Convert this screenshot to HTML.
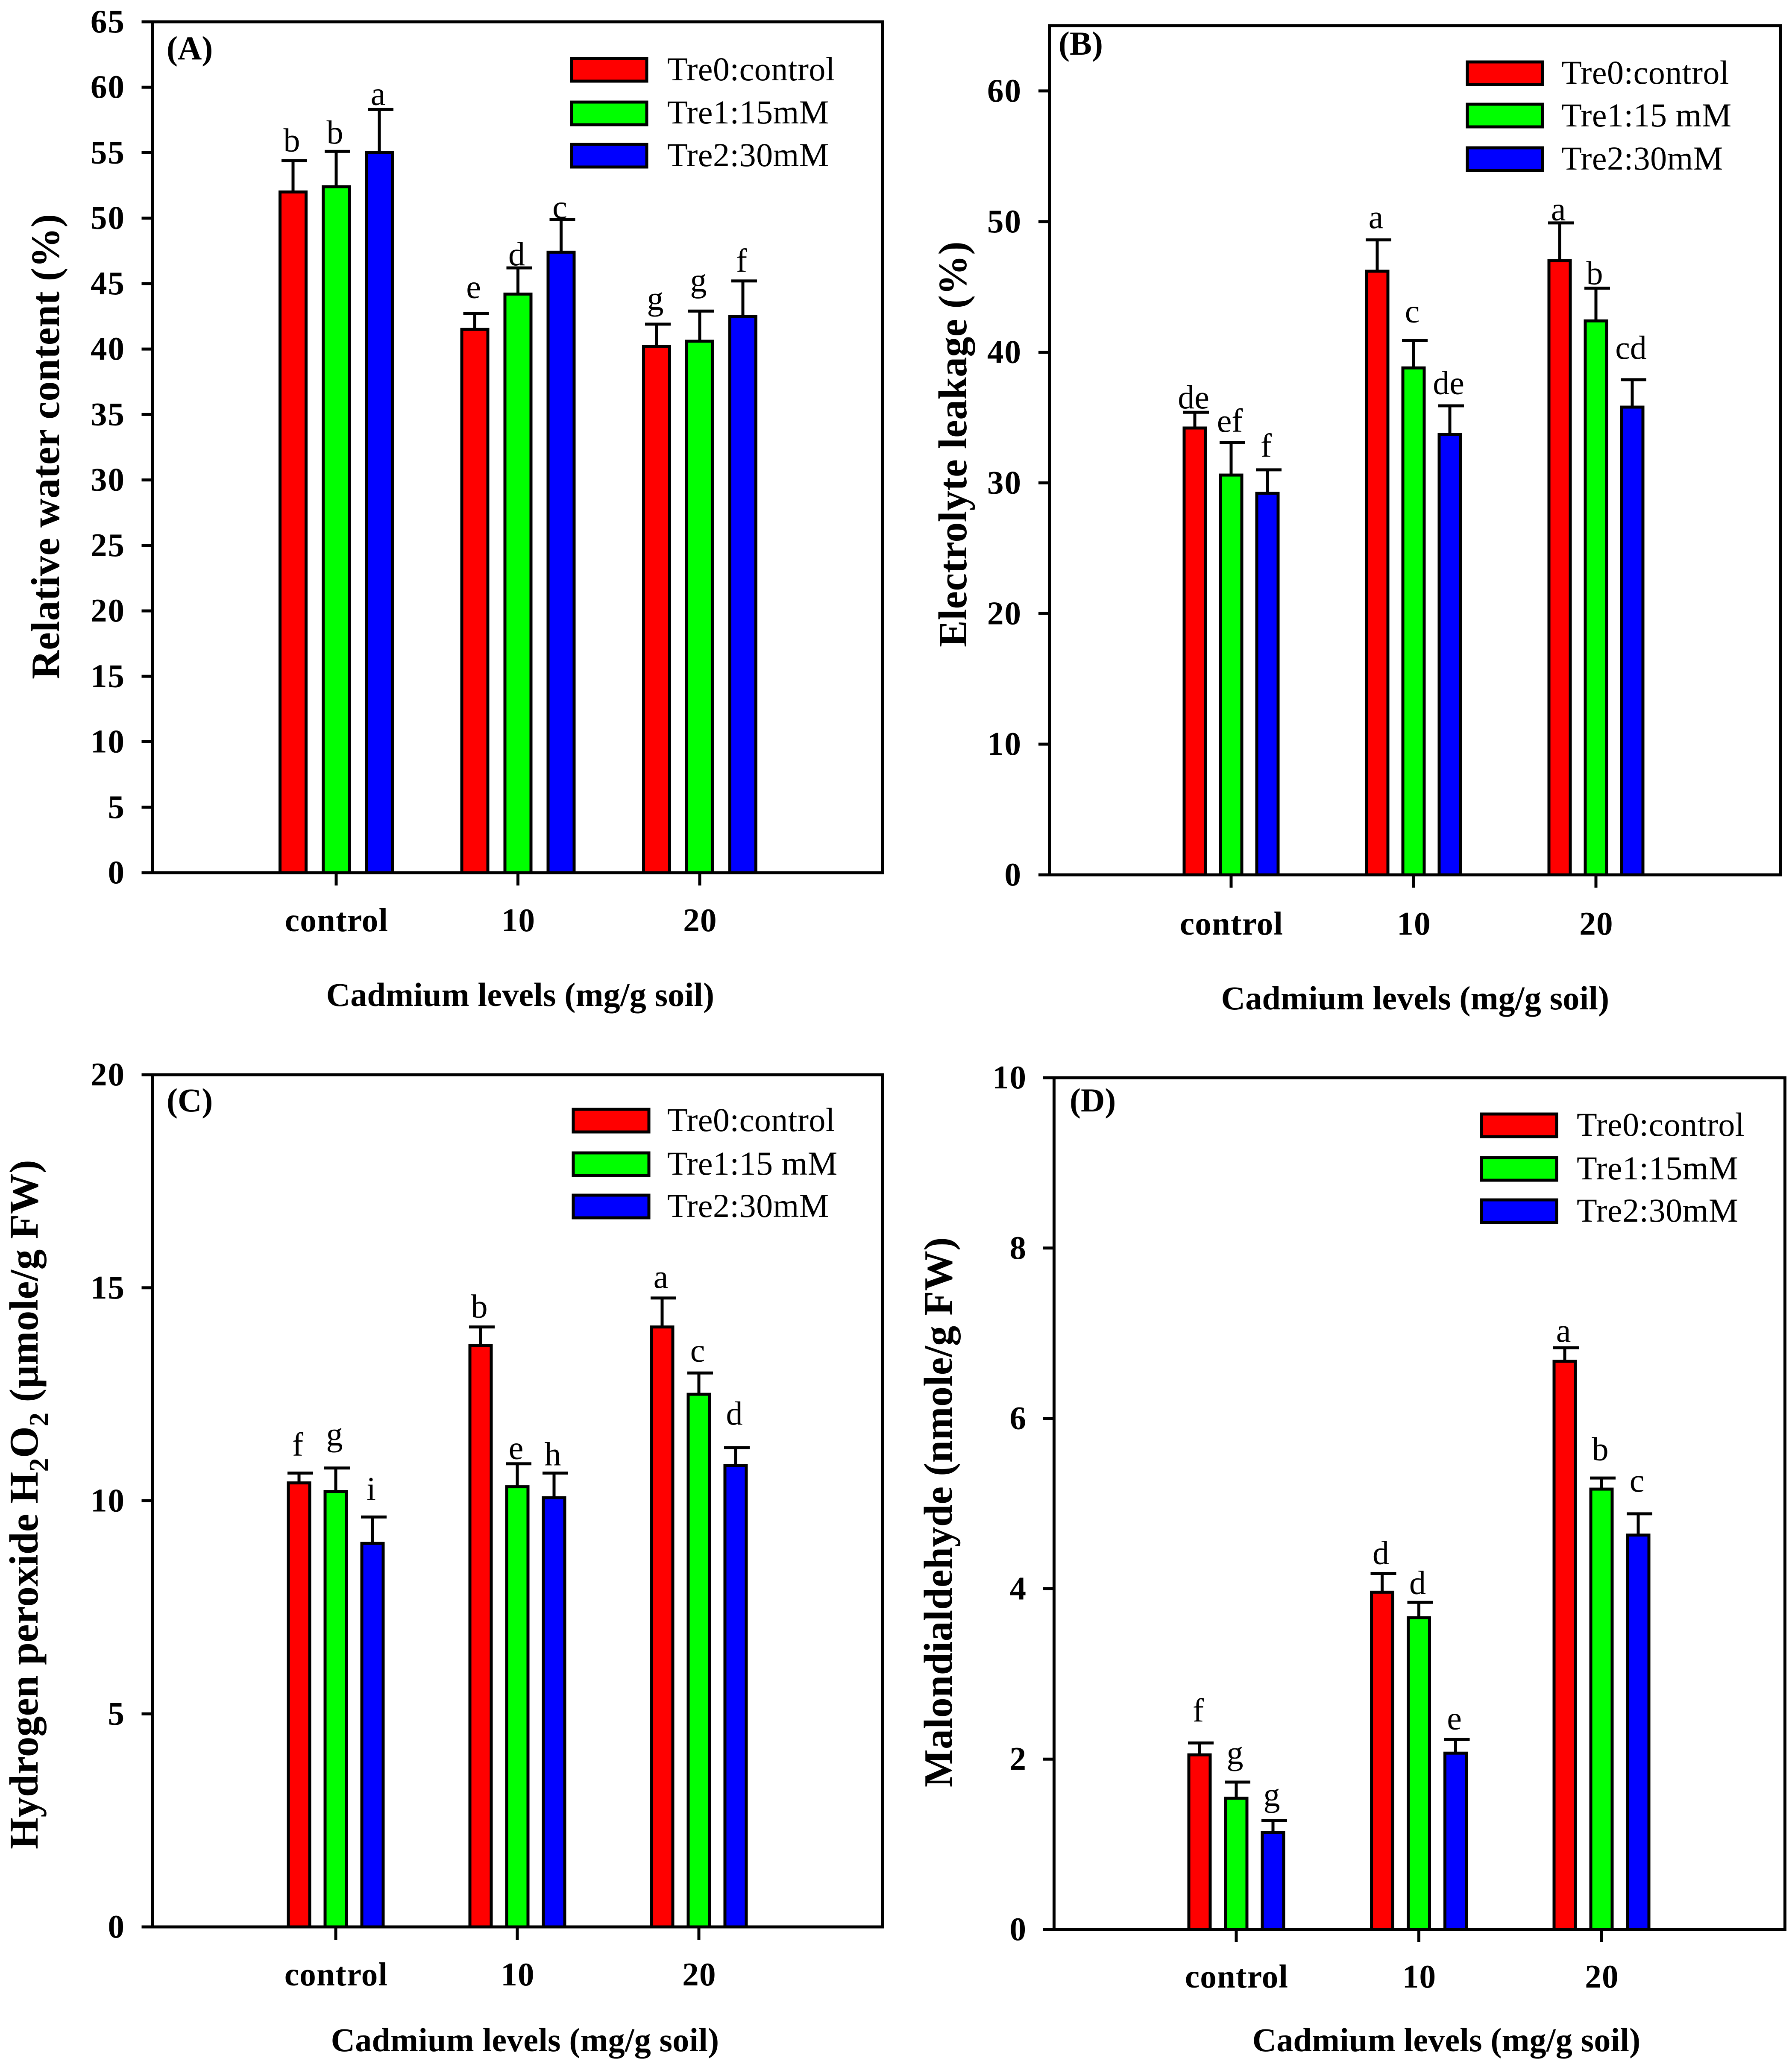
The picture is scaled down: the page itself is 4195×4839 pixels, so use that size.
<!DOCTYPE html>
<html lang="en">
<head>
<meta charset="utf-8">
<title>Cadmium and trehalose response charts</title>
<style>
html,body{margin:0;padding:0;background:#fff;}
svg{display:block;}
text{font-family:"Liberation Serif",serif;fill:#000;}
.b{font-weight:bold;}
.frame{fill:none;stroke:#000;stroke-width:7;}
.swatch{stroke:#000;stroke-width:7;}
.lg{letter-spacing:0.5px;}
.xt{letter-spacing:0.2px;}
.yt{letter-spacing:0.3px;}
</style>
</head>
<body>
<svg id="figure" xmlns="http://www.w3.org/2000/svg" width="4195" height="4839" viewBox="0 0 4195 4839">
<rect x="0" y="0" width="4195" height="4839" fill="#fff"/>

<g id="panel-a">
  <rect class="frame" x="357.5" y="51" width="1708.5" height="1992"/>
  <text class="b" x="390" y="139" font-size="78">(A)</text>
  <text class="b yt" transform="translate(138,1590) rotate(-90)" font-size="94">Relative water content (%)</text>
  <text class="b xt" x="1218" y="2355" font-size="78" text-anchor="middle">Cadmium levels (mg/g soil)</text>
  <g>
    <rect class="swatch" x="1338" y="137" width="176" height="53" fill="#ff0000"/>
    <text class="lg" x="1562" y="188" font-size="78">Tre0:control</text>
    <rect class="swatch" x="1338" y="239" width="176" height="53" fill="#00ff00"/>
    <text class="lg" x="1562" y="289" font-size="78">Tre1:15mM</text>
    <rect class="swatch" x="1338" y="338" width="176" height="53" fill="#0000ff"/>
    <text class="lg" x="1562" y="389" font-size="78">Tre2:30mM</text>
  </g>
</g>

<g id="panel-b">
  <rect class="frame" x="2457" y="60" width="1711" height="1988"/>
  <text class="b" x="2478" y="128" font-size="78">(B)</text>
  <text class="b yt" transform="translate(2262,1515) rotate(-90)" font-size="94">Electrolyte leakage (%)</text>
  <text class="b xt" x="3313" y="2363" font-size="78" text-anchor="middle">Cadmium levels (mg/g soil)</text>
  <g>
    <rect class="swatch" x="3435" y="145" width="176" height="53" fill="#ff0000"/>
    <text class="lg" x="3655" y="196" font-size="78">Tre0:control</text>
    <rect class="swatch" x="3435" y="244" width="176" height="53" fill="#00ff00"/>
    <text class="lg" x="3655" y="296" font-size="78">Tre1:15 mM</text>
    <rect class="swatch" x="3435" y="346" width="176" height="53" fill="#0000ff"/>
    <text class="lg" x="3655" y="397" font-size="78">Tre2:30mM</text>
  </g>
</g>

<g id="panel-c">
  <rect class="frame" x="357.5" y="2516" width="1708.5" height="1995"/>
  <text class="b" x="390" y="2602" font-size="78">(C)</text>
  <text class="b yt" transform="translate(88,4329) rotate(-90)" font-size="95">Hydrogen peroxide H<tspan dy="24" font-size="64">2</tspan><tspan dy="-24">O</tspan><tspan dy="24" font-size="64">2</tspan><tspan dy="-24"> (µmole/g FW)</tspan></text>
  <text class="b xt" x="1229" y="4802" font-size="78" text-anchor="middle">Cadmium levels (mg/g soil)</text>
  <g>
    <rect class="swatch" x="1342" y="2597" width="177" height="53" fill="#ff0000"/>
    <text class="lg" x="1562" y="2648" font-size="78">Tre0:control</text>
    <rect class="swatch" x="1342" y="2699" width="177" height="53" fill="#00ff00"/>
    <text class="lg" x="1562" y="2750" font-size="78">Tre1:15 mM</text>
    <rect class="swatch" x="1342" y="2798" width="177" height="53" fill="#0000ff"/>
    <text class="lg" x="1562" y="2849" font-size="78">Tre2:30mM</text>
  </g>
</g>

<g id="panel-d">
  <rect class="frame" x="2467.5" y="2523" width="1711" height="1994"/>
  <text class="b" x="2504" y="2602" font-size="78">(D)</text>
  <text class="b yt" transform="translate(2228,4184) rotate(-90)" font-size="94">Malondialdehyde (nmole/g FW)</text>
  <text class="b xt" x="3386" y="4802" font-size="78" text-anchor="middle">Cadmium levels (mg/g soil)</text>
  <g>
    <rect class="swatch" x="3468" y="2608" width="176" height="53" fill="#ff0000"/>
    <text class="lg" x="3691" y="2659" font-size="78">Tre0:control</text>
    <rect class="swatch" x="3468" y="2710" width="176" height="53" fill="#00ff00"/>
    <text class="lg" x="3691" y="2761" font-size="78">Tre1:15mM</text>
    <rect class="swatch" x="3468" y="2809" width="176" height="53" fill="#0000ff"/>
    <text class="lg" x="3691" y="2860" font-size="78">Tre2:30mM</text>
  </g>
</g>
</svg>

<script>
// Shared categories and series
const categories = ['control', '10', '20'];
const seriesNames = ['tre0', 'tre1', 'tre2'];
const seriesColors = ['#ff0000', '#00ff00', '#0000ff'];

// Panel A: relative water content (%)
const aTicks = [0, 5, 10, 15, 20, 25, 30, 35, 40, 45, 50, 55, 60, 65];
const aTre0 = [52.0, 41.5, 40.2];
const aTre1 = [52.4, 44.2, 40.6];
const aTre2 = [55.0, 47.4, 42.5];
const aTre0Err = [2.4, 1.2, 1.7];
const aTre1Err = [2.7, 2.0, 2.3];
const aTre2Err = [3.3, 2.5, 2.7];
const aTre0Letters = ['b', 'e', 'g'];
const aTre1Letters = ['b', 'd', 'g'];
const aTre2Letters = ['a', 'c', 'f'];
const aTre0Rise = [0.7, 1.2, 1.1];
const aTre1Rise = [0.6, 0.2, 1.5];
const aTre2Rise = [0.36, 0.1, 0.7];

// Panel B: electrolyte leakage (%)
const bTicks = [0, 10, 20, 30, 40, 50, 60];
const bTre0 = [34.2, 46.2, 47.0];
const bTre1 = [30.6, 38.8, 42.4];
const bTre2 = [29.2, 33.7, 35.8];
const bTre0Err = [1.2, 2.4, 2.9];
const bTre1Err = [2.5, 2.1, 2.5];
const bTre2Err = [1.8, 2.2, 2.1];
const bTre0Letters = ['de', 'a', 'a'];
const bTre1Letters = ['ef', 'c', 'b'];
const bTre2Letters = ['f', 'de', 'cd'];
const bTre0Rise = [0.3, 0.9, 0.2];
const bTre1Rise = [0.8, 1.4, 0.3];
const bTre2Rise = [1.0, 0.9, 1.6];

// Panel C: hydrogen peroxide (umole/g FW)
const cTicks = [0, 5, 10, 15, 20];
const cTre0 = [10.42, 13.64, 14.08];
const cTre1 = [10.22, 10.33, 12.5];
const cTre2 = [9.0, 10.07, 10.83];
const cTre0Err = [0.23, 0.44, 0.68];
const cTre1Err = [0.55, 0.54, 0.5];
const cTre2Err = [0.62, 0.58, 0.42];
const cTre0Letters = ['f', 'b', 'a'];
const cTre1Letters = ['g', 'e', 'c'];
const cTre2Letters = ['i', 'h', 'd'];
const cTre0Rise = [0.41, 0.22, 0.24];
const cTre1Rise = [0.53, 0.11, 0.27];
const cTre2Rise = [0.4, 0.18, 0.54];

// Panel D: malondialdehyde (nmole/g FW)
const dTicks = [0, 2, 4, 6, 8, 10];
const dTre0 = [2.05, 3.96, 6.67];
const dTre1 = [1.54, 3.66, 5.17];
const dTre2 = [1.14, 2.07, 4.63];
const dTre0Err = [0.14, 0.22, 0.16];
const dTre1Err = [0.19, 0.18, 0.13];
const dTre2Err = [0.14, 0.16, 0.25];
const dTre0Letters = ['f', 'd', 'a'];
const dTre1Letters = ['g', 'd', 'b'];
const dTre2Letters = ['g', 'e', 'c'];
const dTre0Rise = [0.25, 0.11, 0.07];
const dTre1Rise = [0.21, 0.1, 0.21];
const dTre2Rise = [0.17, 0.12, 0.26];

const SVG_NS = 'http://www.w3.org/2000/svg';

function make(parent, tag, attrs) {
  const node = document.createElementNS(SVG_NS, tag);
  for (const key in attrs) node.setAttribute(key, attrs[key]);
  parent.appendChild(node);
  return node;
}

function drawPanel(cfg) {
  const root = document.getElementById(cfg.id);
  const xScale = function (i) { return cfg.firstX + i * cfg.stepX; };
  const yScale = function (v) { return cfg.bottom - v * (cfg.bottom - cfg.top) / cfg.yMax; };

  cfg.ticks.forEach(function (t) {
    const tick = make(root, 'line', {x1: cfg.left - 26, x2: cfg.left, y1: yScale(t), y2: yScale(t), stroke: '#000', 'stroke-width': 7});
    
    
    const label = make(root, 'text', {x: cfg.labelRight + 2, y: yScale(t) + 25, 'font-size': 77, 'font-weight': 'bold', 'text-anchor': 'end', 'letter-spacing': 2});
    
    
    label.textContent = String(t);
  });

  categories.forEach(function (cat, i) {
    const tick = make(root, 'line', {x1: xScale(i), x2: xScale(i), y1: cfg.bottom, y2: cfg.bottom + 30, stroke: '#000', 'stroke-width': 7});
    
    
    const label = make(root, 'text', {x: xScale(i) + 1, y: cfg.catBaseline, 'font-size': 77, 'font-weight': 'bold', 'text-anchor': 'middle', 'letter-spacing': 1.2});
    
    
    label.textContent = cat;

    cfg.values.forEach(function (series, s) {
      const cx = xScale(i) + (s - 1) * cfg.offset;
      const value = series[i];
      const errTop = value + cfg.errors[s][i];

      const stem = make(root, 'line', {x1: cx, x2: cx, y1: yScale(value), y2: yScale(errTop), stroke: '#000', 'stroke-width': 7});
      
      

      const cap = make(root, 'line', {x1: cx - 27, x2: cx + 33, y1: yScale(errTop), y2: yScale(errTop), stroke: '#000', 'stroke-width': 7});
      
      

      const bar = make(root, 'rect', {x: cx - cfg.barWidth / 2, y: yScale(value), width: cfg.barWidth, height: cfg.bottom - yScale(value), fill: seriesColors[s], stroke: '#000', 'stroke-width': 7});
      
      

      const letter = make(root, 'text', {x: cx - 3, y: yScale(errTop + cfg.rises[s][i]), 'font-size': 78, 'text-anchor': 'middle'});
      
      
      letter.textContent = cfg.letters[s][i];
    });
  });
}

drawPanel({id: 'panel-a', left: 357.5, top: 51, bottom: 2043, yMax: 65, labelRight: 291, firstX: 787, stepX: 425.5, offset: 101, barWidth: 61, catBaseline: 2180,
  ticks: aTicks, values: [aTre0, aTre1, aTre2], errors: [aTre0Err, aTre1Err, aTre2Err], letters: [aTre0Letters, aTre1Letters, aTre2Letters], rises: [aTre0Rise, aTre1Rise, aTre2Rise]});
drawPanel({id: 'panel-b', left: 2457, top: 60, bottom: 2048, yMax: 65, labelRight: 2390, firstX: 2882, stepX: 427, offset: 85, barWidth: 50, catBaseline: 2188,
  ticks: bTicks, values: [bTre0, bTre1, bTre2], errors: [bTre0Err, bTre1Err, bTre2Err], letters: [bTre0Letters, bTre1Letters, bTre2Letters], rises: [bTre0Rise, bTre1Rise, bTre2Rise]});
drawPanel({id: 'panel-c', left: 357.5, top: 2516, bottom: 4511, yMax: 20, labelRight: 291, firstX: 786, stepX: 425, offset: 86, barWidth: 50, catBaseline: 4648,
  ticks: cTicks, values: [cTre0, cTre1, cTre2], errors: [cTre0Err, cTre1Err, cTre2Err], letters: [cTre0Letters, cTre1Letters, cTre2Letters], rises: [cTre0Rise, cTre1Rise, cTre2Rise]});
drawPanel({id: 'panel-d', left: 2467.5, top: 2523, bottom: 4517, yMax: 10, labelRight: 2402, firstX: 2894, stepX: 427.5, offset: 86, barWidth: 50, catBaseline: 4653,
  ticks: dTicks, values: [dTre0, dTre1, dTre2], errors: [dTre0Err, dTre1Err, dTre2Err], letters: [dTre0Letters, dTre1Letters, dTre2Letters], rises: [dTre0Rise, dTre1Rise, dTre2Rise]});
</script>
</body>
</html>
